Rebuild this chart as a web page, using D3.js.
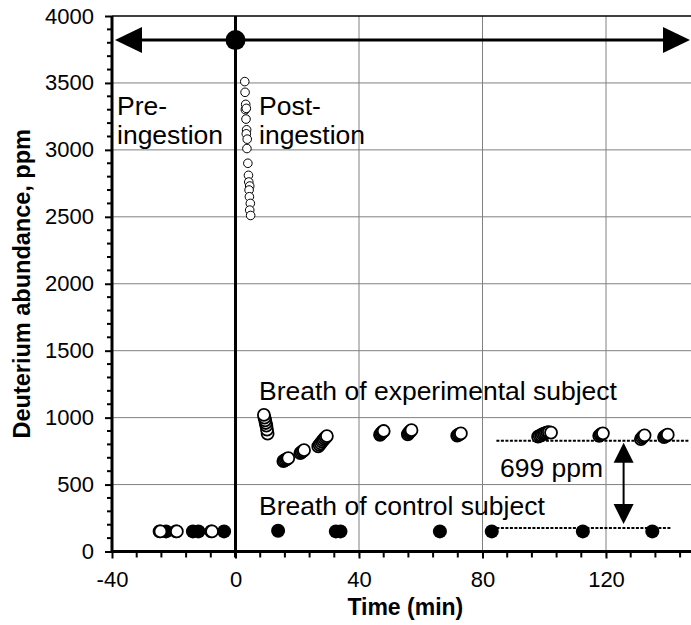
<!DOCTYPE html>
<html><head><meta charset="utf-8">
<script src="https://cdn.jsdelivr.net/npm/d3@7"></script>
<style>body{margin:0;background:#fff}svg{display:block;font-family:"Liberation Sans",Arial,sans-serif}</style>
</head><body><svg id="c" width="691" height="625"></svg>
<script>
// ---- data ----
const xTicks = [-40, 0, 40, 80, 120];
const yTicks = [0, 500, 1000, 1500, 2000, 2500, 3000, 3500, 4000];
// post-ingestion samples [time, ppm]
const postIngestion = [[3.0,3510],[3.1,3430],[3.3,3340],[3.2,3300],[3.5,3310],[3.4,3230],[3.6,3150],[3.5,3120],[3.8,3080],[3.7,3010],[4.0,2900],[4.2,2810],[4.3,2760],[4.6,2730],[4.4,2700],[4.5,2650],[4.8,2600],[4.6,2550],[4.9,2510]];
// breath of experimental subject [time, ppm]
const experimental = [[-24.6,150],[-24.3,150],[-19.3,150],[-19,150],[-7.9,150],[-7.6,150],
 [10.4,880],[10.2,910],[10,940],[9.8,960],[9.6,980],[9.4,1000],[9.2,1020],
 [15.5,675],[15.9,680],[16.3,686],[16.7,692],[17.1,698],
 [21,735],[21.4,742],[21.8,750],[22.2,757],
 [26.8,785],[27.2,797],[27.6,808],[28,820],[28.4,832],[28.8,843],[29.2,853],[29.6,862],
 [46.8,872],[47.1,880],[47.4,888],[47.7,895],[48,900],
 [55.8,875],[56.1,885],[56.4,893],[56.7,900],[57,906],
 [71.8,866],[72.2,872],[72.6,877],[73,882],
 [98,858],[98.5,864],[99,870],[99.5,876],[100,880],[100.5,885],[101,890],[101.5,892],[102.2,888],
 [117.8,864],[118.2,872],[118.6,878],[119,883],
 [131.3,840],[131.7,850],[132.1,860],[132.5,868],
 [138.8,855],[139.2,862],[139.6,868],[140,873]];
// breath of control subject [time, ppm]
const control = [[-22.5,150],[-13.8,150],[-12,150],[-3.7,150],[13.8,155],[32.5,150],[34,150],[66.2,150],[83,150],[112.5,150],[135,150]];
const ingestionMark = [0, 3820];
const expLevel = 828, ctrlLevel = 175;
const levelRange = [84.5, 147, 141];
const diffLabel = "699 ppm";

// ---- chart ----
const FONT = '"Liberation Sans",Arial,sans-serif';
const svg = d3.select("#c");
const L = 112, T = 16, B = 551.5;
const x = d3.scaleLinear().domain([-40, 150]).range([L, L + 190 * 3.0875]);
const y = d3.scaleLinear().domain([0, 4000]).range([B, T]);
const R = 691;

// grid
svg.append("g").selectAll("line").data(yTicks.filter(d => d > 0 && d < 4000)).join("line")
  .attr("x1", L).attr("x2", R).attr("y1", d => y(d)).attr("y2", d => y(d))
  .attr("stroke", "#808080").attr("stroke-width", 1);
svg.append("g").selectAll("line").data(xTicks.filter(d => d > 0)).join("line")
  .attr("x1", d => x(d)).attr("x2", d => x(d)).attr("y1", T).attr("y2", B + 5)
  .attr("stroke", "#808080").attr("stroke-width", 1);
// top border
svg.append("line").attr("x1", L).attr("x2", R).attr("y1", y(4000)).attr("y2", y(4000)).attr("stroke", "#000").attr("stroke-width", 1.5);

// y axis
const yAxis = d3.axisLeft(y).tickValues(yTicks).tickSize(7).tickPadding(11).tickFormat(d => String(d));
const gy = svg.append("g").attr("transform", `translate(${L},0)`).call(yAxis);
gy.append("g").selectAll("line").data(d3.range(0, 4001, 100).filter(d => d % 500)).join("line")
  .attr("x1", -5).attr("x2", 0).attr("y1", d => y(d)).attr("y2", d => y(d)).attr("stroke", "#000").attr("stroke-width", 2);
// x axis
const xAxis = d3.axisBottom(x).tickValues(xTicks).tickSize(7).tickPadding(13).tickFormat(d => String(d));
const gx = svg.append("g").attr("transform", `translate(0,${B})`).call(xAxis);
gx.append("g").selectAll("line").data(d3.range(-40, 149, 8).filter(d => !xTicks.includes(d))).join("line")
  .attr("x1", d => x(d)).attr("x2", d => x(d)).attr("y1", 0).attr("y2", 6).attr("stroke", "#000").attr("stroke-width", 2);
[gx, gy].forEach(g => {
  g.select(".domain").attr("stroke-width", 3).attr("stroke", "#000");
  g.selectAll(".tick line").attr("stroke-width", 2);
  g.selectAll(".tick text").attr("font-size", 22).attr("fill", "#000").attr("font-family", FONT);
});
gx.select(".domain").attr("d", `M${L},0H${R}`);
gy.select(".domain").attr("d", `M0,${B}V${T}`);

// zero line
svg.append("line").attr("x1", x(0)).attr("x2", x(0)).attr("y1", T).attr("y2", B + 6).attr("stroke", "#000").attr("stroke-width", 3);

// top double arrow
const ay = y(ingestionMark[1]);
const ax1 = L + 3, ax2 = R - 1;
svg.append("line").attr("x1", ax1 + 20).attr("x2", ax2 - 20).attr("y1", ay).attr("y2", ay).attr("stroke", "#000").attr("stroke-width", 3);
svg.append("path").attr("d", `M${ax1},${ay}L${ax1 + 27},${ay - 13}L${ax1 + 27},${ay + 13}Z`).attr("fill", "#000");
svg.append("path").attr("d", `M${ax2},${ay}L${ax2 - 27},${ay - 13}L${ax2 - 27},${ay + 13}Z`).attr("fill", "#000");
svg.append("circle").attr("cx", x(ingestionMark[0])).attr("cy", ay).attr("r", 10).attr("fill", "#000");

// level dashed lines
svg.append("line").attr("x1", x(levelRange[0])).attr("x2", x(levelRange[1])).attr("y1", y(expLevel)).attr("y2", y(expLevel))
  .attr("stroke", "#000").attr("stroke-width", 2).attr("stroke-dasharray", "3,1.5");
svg.append("line").attr("x1", x(levelRange[0])).attr("x2", x(levelRange[2])).attr("y1", y(ctrlLevel)).attr("y2", y(ctrlLevel))
  .attr("stroke", "#000").attr("stroke-width", 2).attr("stroke-dasharray", "3,1.5");

// points
svg.append("g").selectAll("circle").data(control).join("circle")
  .attr("cx", d => x(d[0])).attr("cy", d => y(d[1])).attr("r", 7).attr("fill", "#000");
svg.append("g").selectAll("circle").data(experimental).join("circle")
  .attr("cx", d => x(d[0])).attr("cy", d => y(d[1])).attr("r", 6).attr("fill", "#fff").attr("stroke", "#000").attr("stroke-width", 1.8);
svg.append("g").selectAll("circle").data(postIngestion).join("circle")
  .attr("cx", d => x(d[0])).attr("cy", d => y(d[1])).attr("r", 4.3).attr("fill", "#fff").attr("stroke", "#000").attr("stroke-width", 1);

// difference arrow
const dx = x(125.7), dy1 = y(expLevel) + 2, dy2 = y(ctrlLevel) - 4;
svg.append("line").attr("x1", dx).attr("x2", dx).attr("y1", dy1 + 15).attr("y2", dy2 - 15).attr("stroke", "#000").attr("stroke-width", 2);
svg.append("path").attr("d", `M${dx},${dy1}L${dx - 10},${dy1 + 20}L${dx + 10},${dy1 + 20}Z`).attr("fill", "#000");
svg.append("path").attr("d", `M${dx},${dy2}L${dx - 10},${dy2 - 20}L${dx + 10},${dy2 - 20}Z`).attr("fill", "#000");

// annotations
const ann = svg.append("g").attr("font-size", 26.5).attr("fill", "#000");
ann.append("text").attr("x", 117).attr("y", 115).text("Pre-");
ann.append("text").attr("x", 117).attr("y", 144).text("ingestion");
ann.append("text").attr("x", 259).attr("y", 115).text("Post-");
ann.append("text").attr("x", 259).attr("y", 144).text("ingestion");
ann.append("text").attr("x", 259).attr("y", 400).text("Breath of experimental subject");
ann.append("text").attr("x", 259).attr("y", 515).text("Breath of control subject");
ann.append("text").attr("x", 500).attr("y", 477).text(diffLabel);

// axis titles
svg.append("text").attr("x", (L + x(150)) / 2).attr("y", 615).attr("text-anchor", "middle").attr("font-size", 23).attr("font-weight", "bold").text("Time (min)");
svg.append("text").attr("transform", `translate(30,${(T + B) / 2}) rotate(-90)`).attr("text-anchor", "middle").attr("font-size", 23.5).attr("font-weight", "bold").text("Deuterium abundance, ppm");
</script></body></html>
